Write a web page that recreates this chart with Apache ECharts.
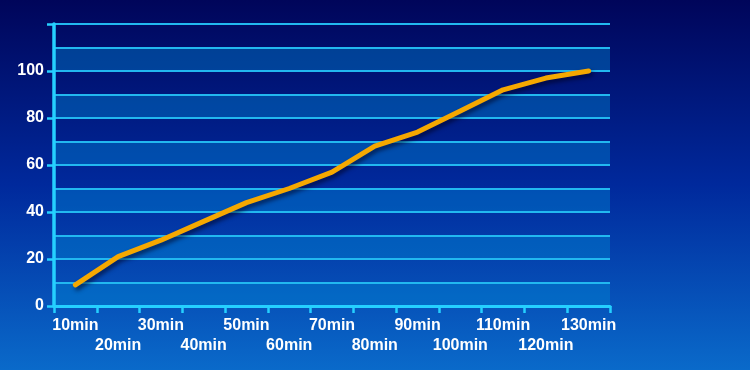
<!DOCTYPE html>
<html><head><meta charset="utf-8">
<script src="https://cdn.jsdelivr.net/npm/echarts@6/dist/echarts.min.js"></script>
<style>html,body{margin:0;padding:0;}#c{width:750px;height:370px;}</style>
</head><body><div id="c"></div>
<script>
const categories = ['10min','20min','30min','40min','50min','60min','70min','80min','90min','100min','110min','120min','130min'];
const values = [9, 21, 28, 36, 44, 50, 57, 68, 74, 83, 92, 97, 100];
const yTicks = [0, 20, 40, 60, 80, 100];

const chart = echarts.init(document.getElementById('c'));
chart.setOption({
  backgroundColor: new echarts.graphic.LinearGradient(0, 0, 0, 1, [
    {offset: 0, color: '#00055a'},
    {offset: 0.5, color: '#00299c'},
    {offset: 1, color: '#0a6aca'}
  ]),
  animation: false,
  grid: {left: 54, right: 140, top: 24, bottom: 64},
  xAxis: {
    type: 'category',
    data: categories,
    boundaryGap: true,
    axisLine: {lineStyle: {color: '#25d0ff', width: 3}},
    axisTick: {show: true, length: 7, lineStyle: {color: '#25d0ff', width: 2.5}},
    axisLabel: {
      interval: 0, color: '#ffffff', fontWeight: 'bold', fontSize: 16,
      fontFamily: 'Liberation Sans, Arial, sans-serif', lineHeight: 20, margin: 10,
      formatter: (v, i) => i % 2 === 1 ? '\n' + v : v + '\n'
    },
    splitLine: {show: false}
  },
  yAxis: [{
    type: 'value', min: 0, max: 120, interval: 10,
    axisLine: {show: false},
    axisTick: {show: false},
    axisLabel: {show: false},
    splitLine: {lineStyle: {color: '#22b8f0', width: 2}},
    splitArea: {show: true, areaStyle: {color: ['rgba(0,140,215,0.4)', 'rgba(0,0,0,0)']}}
  }, {
    type: 'value', min: 0, max: 120, interval: 20, position: 'left',
    axisLine: {show: true, lineStyle: {color: '#25d0ff', width: 3.5}},
    axisTick: {show: true, length: 7, lineStyle: {color: '#25d0ff', width: 2.5}},
    axisLabel: {
      color: '#ffffff', fontWeight: 'bold', fontSize: 16, margin: 10,
      fontFamily: 'Liberation Sans, Arial, sans-serif',
      formatter: v => yTicks.indexOf(v) >= 0 ? String(v) : ''
    },
    splitLine: {show: false},
    splitArea: {show: false},
    z: 5
  }],
  series: [{
    type: 'line',
    data: values,
    yAxisIndex: 0,
    showSymbol: false,
    smooth: false,
    lineStyle: {color: '#f5a800', width: 5, cap: 'round', join: 'round',
      shadowColor: 'rgba(0,0,30,0.6)', shadowBlur: 4, shadowOffsetX: 2, shadowOffsetY: 3}
  }]
});
</script></body></html>
